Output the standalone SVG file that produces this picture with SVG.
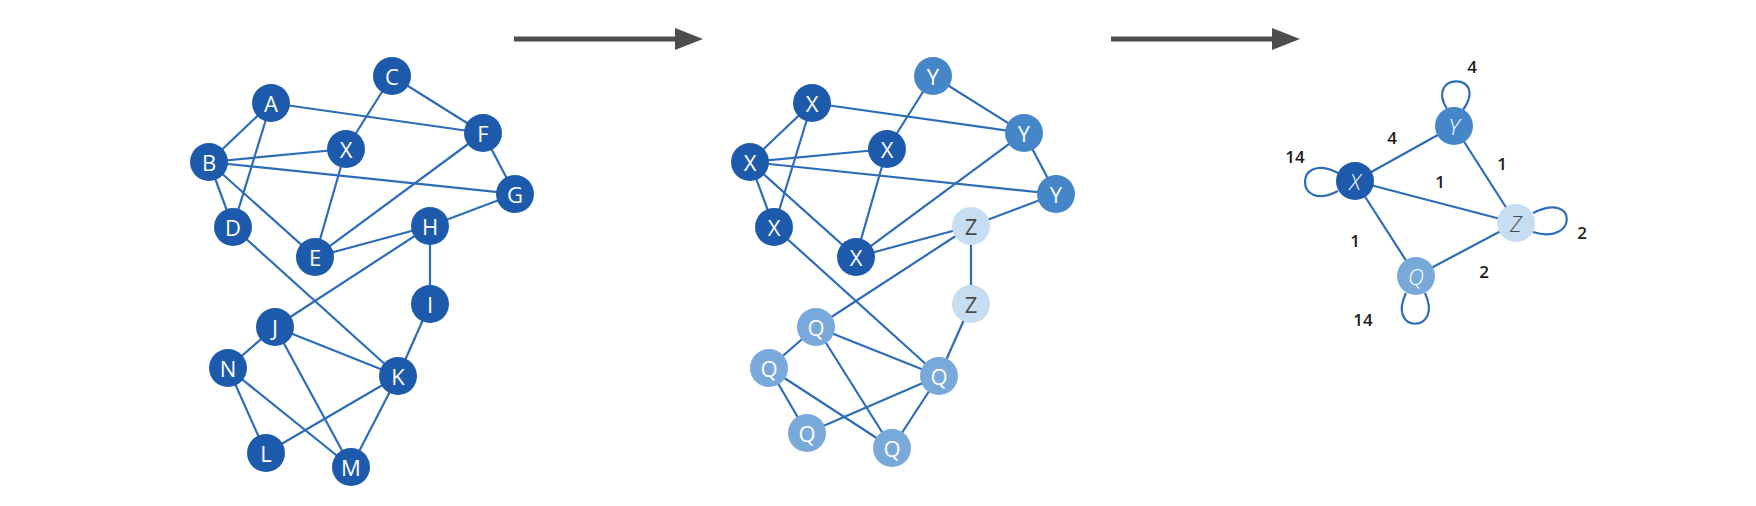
<svg xmlns="http://www.w3.org/2000/svg" width="1756" height="506" viewBox="0 0 1756 506">
<defs>
<style>
.e{stroke:#2d6cb7;stroke-width:2.2;fill:none}
.lp{stroke:#2d6cb7;stroke-width:2.2;fill:none}
.d{fill:#1e5aab}
.y{fill:#4486c8}
.q{fill:#78a9da}
.z{fill:#c7ddf1}
.t{font-family:"Open Sans","DejaVu Sans",sans-serif;font-size:22px;fill:#ffffff;text-anchor:middle;dominant-baseline:central}
.tz{fill:#4a4a4a}
.it{font-style:italic;font-weight:300}
.n{font-family:"Open Sans","DejaVu Sans",sans-serif;font-size:17px;font-weight:600;fill:#1a1a1a;text-anchor:middle;dominant-baseline:central}
.ar{stroke:#4d4d4d;stroke-width:5}
</style>
<marker id="ah" markerWidth="30" markerHeight="24" refX="0" refY="11" markerUnits="userSpaceOnUse" orient="auto">
<polygon points="0,0 28,11 0,22" fill="#4d4d4d"/>
</marker>
</defs>
<rect width="1756" height="506" fill="#ffffff"/>
<g id="arrows">
<line class="ar" x1="514" y1="39" x2="675" y2="39" marker-end="url(#ah)"/>
<line class="ar" x1="1111" y1="39" x2="1272" y2="39" marker-end="url(#ah)"/>
</g>
<g id="connectors">
<line class="e" x1="271" y1="103" x2="209" y2="162"/>
<line class="e" x1="271" y1="103" x2="233" y2="227"/>
<line class="e" x1="271" y1="103" x2="483" y2="133"/>
<line class="e" x1="392" y1="76" x2="346" y2="149"/>
<line class="e" x1="392" y1="76" x2="483" y2="133"/>
<line class="e" x1="209" y1="162" x2="346" y2="149"/>
<line class="e" x1="209" y1="162" x2="515" y2="194"/>
<line class="e" x1="209" y1="162" x2="233" y2="227"/>
<line class="e" x1="209" y1="162" x2="315" y2="257"/>
<line class="e" x1="346" y1="149" x2="315" y2="257"/>
<line class="e" x1="483" y1="133" x2="315" y2="257"/>
<line class="e" x1="483" y1="133" x2="515" y2="194"/>
<line class="e" x1="515" y1="194" x2="430" y2="226"/>
<line class="e" x1="430" y1="226" x2="315" y2="257"/>
<line class="e" x1="430" y1="226" x2="275" y2="327"/>
<line class="e" x1="430" y1="226" x2="430" y2="304"/>
<line class="e" x1="233" y1="227" x2="398" y2="376"/>
<line class="e" x1="430" y1="304" x2="398" y2="376"/>
<line class="e" x1="275" y1="327" x2="398" y2="376"/>
<line class="e" x1="275" y1="327" x2="228" y2="368"/>
<line class="e" x1="275" y1="327" x2="351" y2="467"/>
<line class="e" x1="228" y1="368" x2="266" y2="453"/>
<line class="e" x1="228" y1="368" x2="351" y2="467"/>
<line class="e" x1="266" y1="453" x2="398" y2="376"/>
<line class="e" x1="398" y1="376" x2="351" y2="467"/>
<line class="e" x1="812" y1="103" x2="750" y2="162"/>
<line class="e" x1="812" y1="103" x2="774" y2="227"/>
<line class="e" x1="812" y1="103" x2="1024" y2="133"/>
<line class="e" x1="933" y1="76" x2="887" y2="149"/>
<line class="e" x1="933" y1="76" x2="1024" y2="133"/>
<line class="e" x1="750" y1="162" x2="887" y2="149"/>
<line class="e" x1="750" y1="162" x2="1056" y2="194"/>
<line class="e" x1="750" y1="162" x2="774" y2="227"/>
<line class="e" x1="750" y1="162" x2="856" y2="257"/>
<line class="e" x1="887" y1="149" x2="856" y2="257"/>
<line class="e" x1="1024" y1="133" x2="856" y2="257"/>
<line class="e" x1="1024" y1="133" x2="1056" y2="194"/>
<line class="e" x1="1056" y1="194" x2="971" y2="226"/>
<line class="e" x1="971" y1="226" x2="856" y2="257"/>
<line class="e" x1="971" y1="226" x2="816" y2="327"/>
<line class="e" x1="971" y1="226" x2="971" y2="304"/>
<line class="e" x1="774" y1="227" x2="939" y2="376"/>
<line class="e" x1="971" y1="304" x2="939" y2="376"/>
<line class="e" x1="816" y1="327" x2="939" y2="376"/>
<line class="e" x1="816" y1="327" x2="769" y2="368"/>
<line class="e" x1="816" y1="327" x2="892" y2="448"/>
<line class="e" x1="769" y1="368" x2="807" y2="433"/>
<line class="e" x1="769" y1="368" x2="892" y2="448"/>
<line class="e" x1="807" y1="433" x2="939" y2="376"/>
<line class="e" x1="939" y1="376" x2="892" y2="448"/>
<line class="e" x1="1355" y1="181" x2="1454" y2="126"/>
<line class="e" x1="1355" y1="181" x2="1516" y2="223"/>
<line class="e" x1="1355" y1="181" x2="1416" y2="276"/>
<line class="e" x1="1454" y1="126" x2="1516" y2="223"/>
<line class="e" x1="1416" y1="276" x2="1516" y2="223"/>
<path class="lp" d="M1447,109 C1424,72 1490,72 1463,110"/>
<path class="lp" d="M1338,173 C1294,150 1294,214 1338,191"/>
<path class="lp" d="M1533,213 C1578,190 1578,246 1533,232"/>
<path class="lp" d="M1406,293 C1386,334 1444,334 1425,293"/>
</g>
<g id="p1-A"><circle class="d" cx="271" cy="103" r="19"/><text class="t" x="271" y="103">A</text></g>
<g id="p1-C"><circle class="d" cx="392" cy="76" r="19"/><text class="t" x="392" y="76">C</text></g>
<g id="p1-F"><circle class="d" cx="483" cy="133" r="19"/><text class="t" x="483" y="133">F</text></g>
<g id="p1-X"><circle class="d" cx="346" cy="149" r="19"/><text class="t" x="346" y="149">X</text></g>
<g id="p1-B"><circle class="d" cx="209" cy="162" r="19"/><text class="t" x="209" y="162">B</text></g>
<g id="p1-G"><circle class="d" cx="515" cy="194" r="19"/><text class="t" x="515" y="194">G</text></g>
<g id="p1-D"><circle class="d" cx="233" cy="227" r="19"/><text class="t" x="233" y="227">D</text></g>
<g id="p1-H"><circle class="d" cx="430" cy="226" r="19"/><text class="t" x="430" y="226">H</text></g>
<g id="p1-E"><circle class="d" cx="315" cy="257" r="19"/><text class="t" x="315" y="257">E</text></g>
<g id="p1-I"><circle class="d" cx="430" cy="304" r="19"/><text class="t" x="430" y="304">I</text></g>
<g id="p1-J"><circle class="d" cx="275" cy="327" r="19"/><text class="t" x="275" y="327">J</text></g>
<g id="p1-N"><circle class="d" cx="228" cy="368" r="19"/><text class="t" x="228" y="368">N</text></g>
<g id="p1-K"><circle class="d" cx="398" cy="376" r="19"/><text class="t" x="398" y="376">K</text></g>
<g id="p1-L"><circle class="d" cx="266" cy="453" r="19"/><text class="t" x="266" y="453">L</text></g>
<g id="p1-M"><circle class="d" cx="351" cy="467" r="19"/><text class="t" x="351" y="467">M</text></g>

<g id="p2-A"><circle class="d" cx="812" cy="103" r="19"/><text class="t" x="812" y="103">X</text></g>
<g id="p2-C"><circle class="y" cx="933" cy="76" r="19"/><text class="t" x="933" y="76">Y</text></g>
<g id="p2-F"><circle class="y" cx="1024" cy="133" r="19"/><text class="t" x="1024" y="133">Y</text></g>
<g id="p2-X"><circle class="d" cx="887" cy="149" r="19"/><text class="t" x="887" y="149">X</text></g>
<g id="p2-B"><circle class="d" cx="750" cy="162" r="19"/><text class="t" x="750" y="162">X</text></g>
<g id="p2-G"><circle class="y" cx="1056" cy="194" r="19"/><text class="t" x="1056" y="194">Y</text></g>
<g id="p2-D"><circle class="d" cx="774" cy="227" r="19"/><text class="t" x="774" y="227">X</text></g>
<g id="p2-H"><circle class="z" cx="971" cy="226" r="19"/><text class="t tz" x="971" y="226">Z</text></g>
<g id="p2-E"><circle class="d" cx="856" cy="257" r="19"/><text class="t" x="856" y="257">X</text></g>
<g id="p2-I"><circle class="z" cx="971" cy="304" r="19"/><text class="t tz" x="971" y="304">Z</text></g>
<g id="p2-J"><circle class="q" cx="816" cy="327" r="19"/><text class="t" x="816" y="327">Q</text></g>
<g id="p2-N"><circle class="q" cx="769" cy="368" r="19"/><text class="t" x="769" y="368">Q</text></g>
<g id="p2-K"><circle class="q" cx="939" cy="376" r="19"/><text class="t" x="939" y="376">Q</text></g>
<g id="p2-L"><circle class="q" cx="807" cy="433" r="19"/><text class="t" x="807" y="433">Q</text></g>
<g id="p2-M"><circle class="q" cx="892" cy="448" r="19"/><text class="t" x="892" y="448">Q</text></g>

<g id="p3-X"><circle class="d" cx="1355" cy="181" r="19"/><text class="t it" x="1355" y="181">X</text></g>
<g id="p3-Y"><circle class="y" cx="1454" cy="126" r="19"/><text class="t it" x="1454" y="126">Y</text></g>
<g id="p3-Z"><circle class="z" cx="1516" cy="223" r="19"/><text class="t tz it" x="1516" y="223">Z</text></g>
<g id="p3-Q"><circle class="q" cx="1416" cy="276" r="19"/><text class="t it" x="1416" y="276">Q</text></g>
<g id="p3-labels">
<text class="n" x="1472" y="66">4</text>
<text class="n" x="1295" y="156">14</text>
<text class="n" x="1582" y="232">2</text>
<text class="n" x="1363" y="319">14</text>
<text class="n" x="1392" y="137">4</text>
<text class="n" x="1502" y="163">1</text>
<text class="n" x="1440" y="181">1</text>
<text class="n" x="1355" y="240">1</text>
<text class="n" x="1484" y="271">2</text>
</g>
</svg>
